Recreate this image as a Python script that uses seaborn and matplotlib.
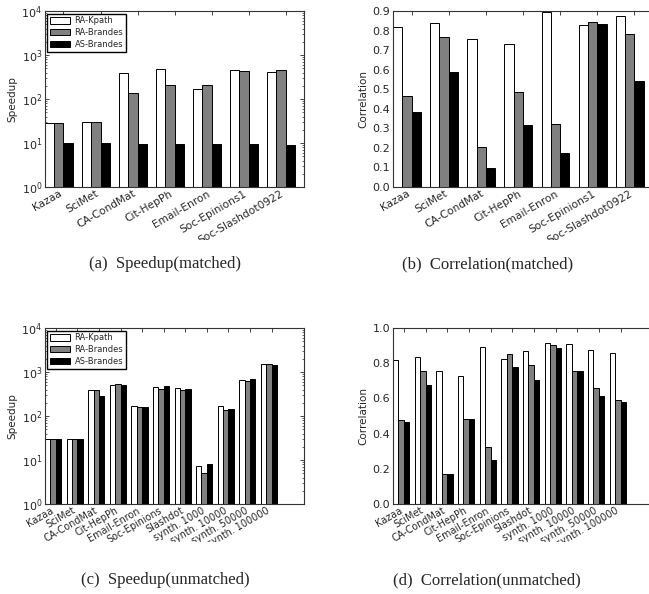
import numpy as np
import pandas as pd
import matplotlib
matplotlib.use("Agg")
import matplotlib.pyplot as plt
import seaborn as sns
from matplotlib.patches import Rectangle

# data
methods = ["RA-Kpath", "RA-Brandes", "AS-Brandes"]

matched = ["Kazaa", "SciMet", "CA-CondMat", "Cit-HepPh", "Email-Enron",
           "Soc-Epinions1", "Soc-Slashdot0922"]
unmatched = ["Kazaa", "SciMet", "CA-CondMat", "Cit-HepPh", "Email-Enron",
             "Soc-Epinions", "Slashdot", "synth. 1000", "synth. 10000",
             "synth. 50000", "synth. 100000"]

speed_m_kpath = [29, 30, 390, 480, 170, 450, 415]
speed_m_rab = [29, 30, 139, 210, 208, 427, 460]
speed_m_asb = [10, 10.2, 9.3, 9.5, 9.3, 9.7, 9.0]

corr_m_kpath = [0.82, 0.837, 0.755, 0.731, 0.896, 0.828, 0.876]
corr_m_rab = [0.463, 0.769, 0.207, 0.488, 0.323, 0.842, 0.781]
corr_m_asb = [0.381, 0.59, 0.095, 0.316, 0.173, 0.832, 0.543]

speed_u_kpath = [30, 30, 400, 500, 172, 466, 426, 7.3, 167, 650, 1490]
speed_u_rab = [30, 30, 400, 535, 164, 405, 385, 5.0, 135, 625, 1490]
speed_u_asb = [30, 30, 280, 500, 158, 490, 420, 8.2, 142, 680, 1460]

corr_u_kpath = [0.819, 0.838, 0.755, 0.728, 0.894, 0.825, 0.872, 0.915, 0.908, 0.875, 0.858]
corr_u_rab = [0.475, 0.755, 0.168, 0.481, 0.323, 0.853, 0.787, 0.904, 0.753, 0.660, 0.592]
corr_u_asb = [0.466, 0.674, 0.168, 0.481, 0.251, 0.777, 0.702, 0.887, 0.757, 0.611, 0.579]

colors = ["white", "#808080", "black"]

sns.set_style("ticks")
plt.rcParams["font.family"] = ["DejaVu Sans"]
plt.rcParams["xtick.direction"] = "in"
plt.rcParams["ytick.direction"] = "in"
plt.rcParams["xtick.top"] = True
plt.rcParams["ytick.right"] = True

W, H = 649, 594
fig = plt.figure(figsize=(W / 100, H / 100), dpi=100)


def add_ax(left, top, right, bottom):
    return fig.add_axes([left / W, 1 - bottom / H, (right - left) / W, (bottom - top) / H])


def draw(ax, cats, k, r, a, log, legend, nx, fs):
    df = pd.DataFrame({"dataset": cats, methods[0]: k, methods[1]: r, methods[2]: a})
    df = df.melt(id_vars="dataset", var_name="method", value_name="value")
    sns.barplot(data=df, x="dataset", y="value", hue="method", hue_order=methods,
                palette=colors, saturation=1, edgecolor="black", linewidth=0.7,
                width=0.75, errorbar=None, ax=ax, legend=legend)
    if log:
        ax.set_yscale("log")
        ax.set_ylim(1, 1e4)
        ax.set_ylabel("Speedup", fontsize=7.5, labelpad=3)
    else:
        ax.set_ylabel("Correlation", fontsize=7.5, labelpad=3)
    ax.set_xlabel("")
    ax.set_xlim(-0.375, -0.375 + nx)
    ax.set_xticks(np.arange(len(cats)) + 0.125)
    ax.set_xticklabels(cats, rotation=30, ha="right", fontsize=fs)
    ax.tick_params(axis="y", labelsize=8, length=3, width=0.6, pad=2)
    ax.tick_params(axis="x", length=3, width=0.6, pad=1)
    ax.tick_params(which="minor", length=1.5, width=0.5)
    for s in ax.spines.values():
        s.set_linewidth(0.8)
        s.set_color("#333333")
    if legend:
        h, l = ax.get_legend_handles_labels()
        ax.legend(h, l, loc="upper left", fontsize=6, frameon=True, fancybox=False,
                  edgecolor="black", framealpha=1, handlelength=2.3, handleheight=0.75,
                  borderpad=0.35, labelspacing=0.35, handletextpad=0.6,
                  borderaxespad=0.3)


ax_a = add_ax(45, 11, 304, 187)
draw(ax_a, matched, speed_m_kpath, speed_m_rab, speed_m_asb, True, True, 7, 7.7)

ax_b = add_ax(393, 11, 653, 187)
draw(ax_b, matched, corr_m_kpath, corr_m_rab, corr_m_asb, False, False, 7, 7.7)
ax_b.set_ylim(0, 0.9)
ax_b.set_yticks(np.arange(0, 0.91, 0.1))

ax_c = add_ax(45, 328, 304, 504)
draw(ax_c, unmatched, speed_u_kpath, speed_u_rab, speed_u_asb, True, True, 12, 6.9)

ax_d = add_ax(393, 328, 653, 504)
draw(ax_d, unmatched, corr_u_kpath, corr_u_rab, corr_u_asb, False, False, 12, 6.9)
ax_d.set_ylim(0, 1.0)
ax_d.set_yticks(np.arange(0, 1.01, 0.2))

# subfigure clipping below the tick labels
for y0, y1 in [(240, 252), (542, 560)]:
    fig.patches.append(Rectangle((0, 1 - y1 / H), 1, (y1 - y0) / H, transform=fig.transFigure,
                                 facecolor="white", edgecolor="none", zorder=5))

cap = dict(ha="center", va="center", fontsize=12, family=["Liberation Serif", "DejaVu Serif"])
fig.text(165 / W, 1 - 264 / H, "(a)  Speedup(matched)", **cap)
fig.text(488 / W, 1 - 264 / H, "(b)  Correlation(matched)", **cap)
fig.text(165 / W, 1 - 580 / H, "(c)  Speedup(unmatched)", **cap)
fig.text(487 / W, 1 - 580 / H, "(d)  Correlation(unmatched)", **cap)

fig.savefig("out.png", dpi=100)
